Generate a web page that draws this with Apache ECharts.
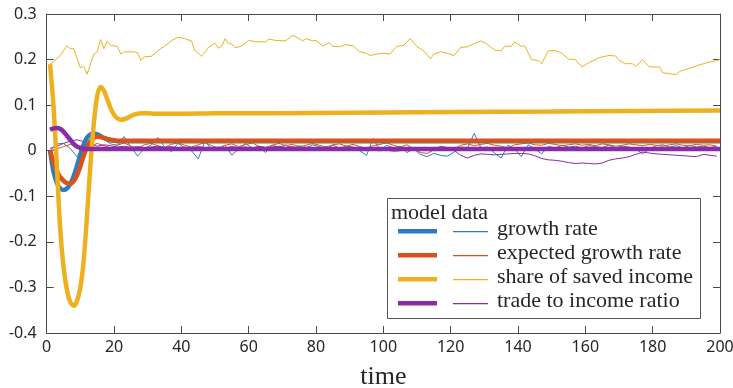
<!DOCTYPE html>
<html>
<head>
<meta charset="utf-8">
<script src="https://cdn.jsdelivr.net/npm/echarts@6/dist/echarts.min.js"></script>
<style>html,body{margin:0;padding:0;background:#fff;overflow:hidden}#c{width:733px;height:388px}</style>
</head>
<body>
<div id="c"></div>
<script>
// ---------- data ----------
var seriesNames = ['growth rate', 'expected growth rate', 'share of saved income', 'trade to income ratio'];
var xTicks = [0, 20, 40, 60, 80, 100, 120, 140, 160, 180, 200];
var yTicks = [-0.4, -0.3, -0.2, -0.1, 0, 0.1, 0.2, 0.3];

var modelX = [1,2,3,4,5,6,7,8,9,10,11,12,13,14,15,16,17,18,19,20,21,22,23,24,25,26,27,28,29,30,32,35,40,50,60,80,100,120,150,175,200];
var modelGrowth = [0,-0.045,-0.07,-0.083,-0.086,-0.083,-0.073,-0.056,-0.033,-0.008,0.014,0.029,0.036,0.038,0.036,0.032,0.028,0.025,0.023,0.022,0.021,0.021,0.021,0.021,0.021,0.021,0.021,0.021,0.021,0.021,0.021,0.021,0.021,0.021,0.021,0.021,0.021,0.021,0.021,0.021,0.021];
var modelExpected = [0,-0.025,-0.045,-0.058,-0.066,-0.071,-0.072,-0.067,-0.054,-0.034,-0.011,0.008,0.021,0.028,0.031,0.030,0.028,0.026,0.024,0.023,0.022,0.022,0.022,0.022,0.022,0.022,0.022,0.022,0.022,0.022,0.022,0.022,0.022,0.022,0.022,0.022,0.022,0.022,0.022,0.022,0.022];
var modelSaved = [0.19,0.10,-0.03,-0.17,-0.255,-0.305,-0.332,-0.34,-0.33,-0.30,-0.24,-0.14,-0.03,0.06,0.12,0.14,0.132,0.113,0.093,0.079,0.071,0.068,0.069,0.072,0.076,0.079,0.081,0.082,0.082,0.082,0.081,0.081,0.081,0.082,0.082,0.083,0.084,0.085,0.086,0.087,0.088];
var modelTrade = [0.046,0.049,0.05,0.048,0.042,0.033,0.024,0.015,0.009,0.006,0.0045,0.004,0.004,0.004,0.004,0.004,0.004,0.004,0.004,0.004,0.004,0.004,0.004,0.004,0.004,0.004,0.004,0.004,0.004,0.004,0.004,0.004,0.004,0.004,0.004,0.004,0.004,0.004,0.004,0.004,0.004];

// data series sampled at t = 1, 3, 5, ..., 199
var dataGrowth = [
 0.0,0.015,0.016,0.005,-0.013,0.008,0.02,0.03,0.025,0.015,0.012,0.031,0.008,-0.012,0.005,0.012,0.029,0.008,-0.002,0.016,
 0.006,0.0,-0.018,0.02,0.004,0.003,0.012,-0.01,0.004,0.016,0.006,0.009,-0.004,0.012,0.007,0.013,0.004,0.011,0.005,0.013,
 0.009,0.004,0.012,0.006,0.01,0.008,0.0,-0.01,0.027,0.0,0.012,0.006,0.01,-0.004,0.004,-0.008,-0.013,-0.006,-0.01,-0.012,
 -0.003,0.008,0.006,0.038,0.006,0.008,-0.005,-0.016,0.012,0.004,-0.013,0.013,0.004,-0.007,0.01,0.006,0.012,0.008,0.01,0.006,
 0.011,0.009,0.007,0.012,0.006,0.01,0.008,0.004,-0.007,0.004,0.011,0.013,0.008,0.011,0.006,0.012,0.008,0.01,0.007,0.009];
var dataExpected = [
 0.0,0.004,0.009,0.014,0.008,0.003,0.01,0.016,0.011,0.006,0.012,0.017,0.01,0.005,0.013,0.016,0.011,0.007,0.014,0.017,
 0.012,0.008,0.013,0.018,0.011,0.006,0.012,0.015,0.009,0.013,0.017,0.01,0.007,0.012,0.016,0.011,0.014,0.009,0.012,0.016,
 0.012,0.008,0.013,0.015,0.01,0.014,0.009,0.005,0.011,0.014,0.017,0.012,0.008,0.013,0.004,-0.004,-0.006,0.002,0.01,0.007,
 0.004,0.012,0.015,0.011,0.014,0.016,0.012,0.01,0.006,0.013,0.015,0.017,0.013,0.012,0.016,0.014,0.011,0.013,0.015,0.012,
 0.014,0.011,0.015,0.013,0.01,0.012,0.015,0.013,0.011,0.014,0.012,0.01,0.013,0.015,0.012,0.011,0.014,0.012,0.013,0.01];
var dataTrade = [
 0.005,0.01,0.016,0.021,0.024,0.02,0.014,0.01,0.013,0.011,0.008,0.01,0.007,0.009,0.006,0.008,0.01,0.007,0.009,0.006,
 0.008,0.006,0.009,0.007,0.005,0.008,0.006,0.009,0.007,0.008,0.006,0.009,0.007,0.008,0.01,0.007,0.009,0.006,0.008,0.007,
 0.006,0.008,0.005,0.007,0.006,0.004,0.003,0.002,0.001,0.0,0.001,-0.001,0.0,0.002,0.001,0.003,0.002,0.005,0.008,0.006,
 0.001,-0.01,-0.016,-0.01,-0.007,-0.008,-0.009,-0.008,-0.007,-0.006,-0.006,-0.007,-0.011,-0.017,-0.02,-0.021,-0.023,-0.026,-0.028,-0.027,
 -0.028,-0.029,-0.027,-0.021,-0.018,-0.016,-0.013,-0.008,-0.003,-0.005,-0.007,-0.008,-0.009,-0.01,-0.011,-0.012,-0.013,-0.008,-0.01,-0.012];
var savedX = [1,2,4,6,7,8,10,11,12,14,15,16,17,18,19,21,22,23,26,27,28,29,31,34,35,37,39,41,43,44,46,48,50,51,52,53,54,55,56,58,60,62,65,66,68,71,73,74,76,77,79,80,82,84,85,87,89,91,93,95,96,98,100,102,104,106,108,110,112,114,115,117,119,121,123,125,127,129,131,133,135,136,138,139,141,142,144,146,147,149,151,153,155,157,159,161,164,167,169,170,172,174,175,177,179,182,183,185,187,188,190,193,196,199,200];
var dataSaved = [0.19,0.195,0.209,0.230,0.224,0.224,0.182,0.185,0.168,0.212,0.217,0.244,0.224,0.240,0.231,0.229,0.212,0.217,0.217,0.215,0.198,0.206,0.207,0.225,0.229,0.241,0.249,0.246,0.241,0.220,0.207,0.226,0.236,0.225,0.229,0.246,0.235,0.234,0.226,0.230,0.242,0.239,0.239,0.245,0.242,0.241,0.253,0.250,0.241,0.246,0.241,0.242,0.230,0.237,0.229,0.228,0.233,0.230,0.217,0.214,0.209,0.212,0.214,0.212,0.229,0.231,0.246,0.228,0.219,0.202,0.212,0.217,0.214,0.209,0.227,0.228,0.235,0.241,0.233,0.221,0.219,0.229,0.229,0.239,0.229,0.230,0.200,0.198,0.191,0.219,0.220,0.214,0.201,0.200,0.184,0.193,0.204,0.209,0.208,0.198,0.191,0.191,0.185,0.200,0.184,0.184,0.171,0.169,0.167,0.174,0.179,0.186,0.193,0.198,0.2];

// ---------- build ----------
var colors = ['#2f7bbf', '#d95319', '#edb120', '#8a2ba8'];
function pairs(xs, ys){ var o=[]; for (var i=0;i<ys.length;i++) o.push([xs[i], ys[i]]); return o; }
var dataX = []; for (var t=1; t<200; t+=2) dataX.push(t);

var series = [];
var dataSets = [dataGrowth, dataExpected, null, dataTrade];
for (var k=0;k<4;k++){
  var d = k===2 ? pairs(savedX, dataSaved) : pairs(dataX, dataSets[k]);
  series.push({type:'line', name:seriesNames[k]+' data', data:d, showSymbol:false, symbol:'none',
    lineStyle:{color:colors[k], width:1}, z:2});
}
var models = [modelGrowth, modelExpected, modelSaved, modelTrade];
for (var k=0;k<4;k++){
  series.push({type:'line', name:seriesNames[k]+' model', data:pairs(modelX, models[k]), showSymbol:false, symbol:'none',
    smooth:0.3, lineStyle:{color:colors[k], width:4.5}, z:3+k});
}

var axisCol = '#4a4a4a', txtCol = '#262626';
function xAx(pos, labels){
  return {type:'value', min:0, max:200, interval:20, position:pos,
    axisLine:{show:true, onZero:false, lineStyle:{color:axisCol, width:1}},
    axisTick:{show:true, inside:true, length:7, lineStyle:{color:axisCol}},
    splitLine:{show:false},
    axisLabel:{show:labels, fontFamily:'Noto Sans', fontSize:16, color:txtCol, margin:6},
    name: labels ? 'time' : '', nameLocation:'middle', nameGap:31,
    nameTextStyle:{fontFamily:'Liberation Serif', fontSize:26, color:txtCol}};
}
function yAx(pos, labels){
  return {type:'value', min:-0.4, max:0.3, interval:0.1, position:pos,
    axisLine:{show:true, onZero:false, lineStyle:{color:axisCol, width:1}},
    axisTick:{show:true, inside:true, length:7, lineStyle:{color:axisCol}},
    splitLine:{show:false},
    axisLabel:{show:labels, fontFamily:'Noto Sans', fontSize:16, color:txtCol, margin:10,
      formatter:function(v){ return String(Math.round(v*10)/10); }}};
}

// legend drawn with graphics
var lg = {x:387, y:198, w:313, h:120};
var graphics = [{type:'rect', shape:{x:lg.x+0.5, y:lg.y+0.5, width:lg.w, height:lg.h},
  style:{fill:'#fff', stroke:'#555', lineWidth:1}, z:100},
  {type:'text', x:391, y:213, style:{text:'model data', fontFamily:'Liberation Serif', fontSize:22, fill:txtCol, textVerticalAlign:'middle'}, z:101}];
for (var k=0;k<4;k++){
  var ly = 231 + k*24;
  graphics.push({type:'rect', shape:{x:398, y:ly-2, width:39, height:4.5}, style:{fill:colors[k], stroke:null}, z:101});
  graphics.push({type:'rect', shape:{x:453, y:ly, width:35, height:1.2}, style:{fill:colors[k], stroke:null}, z:101});
  graphics.push({type:'text', x:497, y:ly-1.5, style:{text:seriesNames[k], fontFamily:'Liberation Serif', fontSize:22, fill:txtCol, textVerticalAlign:'middle'}, z:101});
}

var chart = echarts.init(document.getElementById('c'), null, {renderer:'canvas'});
chart.setOption({
  animation:false,
  backgroundColor:'#fff',
  grid:{left:46.7, right:13, top:14, bottom:55, containLabel:false, outerBoundsMode:'none'},
  xAxis:[xAx('bottom', true), xAx('top', false)],
  yAxis:[yAx('left', true), yAx('right', false)],
  series:series,
  graphic:graphics
});
</script>
</body>
</html>
